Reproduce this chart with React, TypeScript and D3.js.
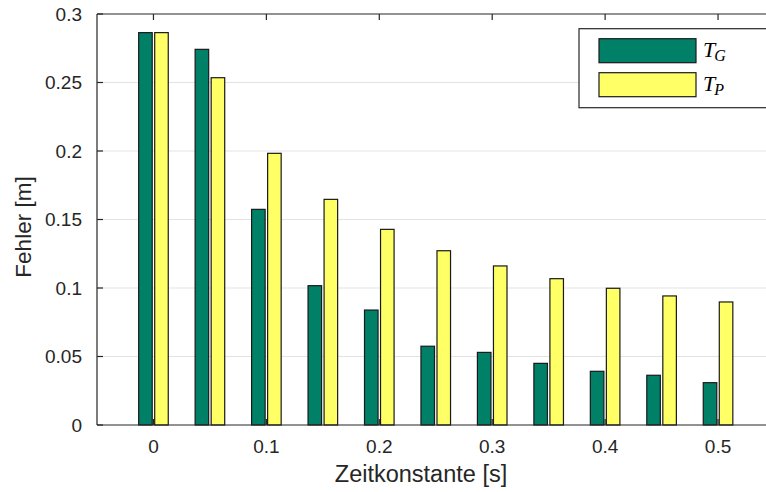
import { useEffect, useRef } from "react";
import * as d3 from "d3";

// Zeitkonstanten (s)
const timeConstants = [0, 0.05, 0.1, 0.15, 0.2, 0.25, 0.3, 0.35, 0.4, 0.45, 0.5];
// Fehler T_G (m)
const errorTG = [0.2864, 0.2742, 0.1574, 0.1017, 0.0839, 0.0575, 0.053, 0.045, 0.0392, 0.0363, 0.0309];
// Fehler T_P (m)
const errorTP = [0.2864, 0.2535, 0.1983, 0.1647, 0.1428, 0.1272, 0.1161, 0.1068, 0.0998, 0.0942, 0.0898];

const xTicks = [0, 0.1, 0.2, 0.3, 0.4, 0.5];
const yTicks = [0, 0.05, 0.1, 0.15, 0.2, 0.25, 0.3];

const seriesNames = ["G", "P"];
const seriesColors = ["#008066", "#ffff66"];

const App = () => {
  const svgRef = useRef<SVGSVGElement>(null);

  useEffect(() => {
    const svg = d3.select(svgRef.current);
    svg.selectAll("*").remove();

    const left = 97;
    const right = 774.5;
    const top = 14;
    const bottom = 425;
    const textColor = "#262626";
    const font = "'Liberation Sans', Arial, Helvetica, sans-serif";

    const x = d3.scaleLinear().domain([-0.05, 0.55]).range([left, right]);
    const y = d3.scaleLinear().domain([0, 0.3]).range([bottom, top]);

    // grid
    svg
      .append("g")
      .selectAll("line")
      .data(yTicks.slice(1, -1))
      .enter()
      .append("line")
      .attr("x1", left)
      .attr("x2", right)
      .attr("y1", (d) => y(d))
      .attr("y2", (d) => y(d))
      .attr("stroke", "#e3e3e3")
      .attr("stroke-width", 1.2);

    // bars
    const step = x(0.05) - x(0);
    const barW = step * 0.24;
    const gap = step * 0.022;
    const series = [errorTG, errorTP];

    series.forEach((vals, s) => {
      svg
        .append("g")
        .selectAll("rect")
        .data(vals)
        .enter()
        .append("rect")
        .attr("x", (d, i) => (s === 0 ? x(timeConstants[i]) - gap - barW : x(timeConstants[i]) + gap))
        .attr("y", (d) => y(d))
        .attr("width", barW)
        .attr("height", (d) => y(0) - y(d))
        .attr("fill", seriesColors[s])
        .attr("stroke", "#1a1a1a")
        .attr("stroke-width", 1.2);
    });

    // axes box
    const axis = svg.append("g").attr("stroke", textColor).attr("stroke-width", 1.2).attr("fill", "none");
    axis.append("line").attr("x1", left).attr("x2", left).attr("y1", top).attr("y2", bottom);
    axis.append("line").attr("x1", left).attr("x2", right).attr("y1", bottom).attr("y2", bottom);
    axis.append("line").attr("x1", left).attr("x2", right).attr("y1", top).attr("y2", top);

    const tickLen = 6;
    xTicks.forEach((t) => {
      axis.append("line").attr("x1", x(t)).attr("x2", x(t)).attr("y1", bottom).attr("y2", bottom - tickLen);
      axis.append("line").attr("x1", x(t)).attr("x2", x(t)).attr("y1", top).attr("y2", top + tickLen);
    });
    yTicks.forEach((t) => {
      axis.append("line").attr("x1", left).attr("x2", left + tickLen).attr("y1", y(t)).attr("y2", y(t));
    });

    // tick labels
    svg
      .append("g")
      .selectAll("text")
      .data(xTicks)
      .enter()
      .append("text")
      .attr("x", (d) => x(d))
      .attr("y", bottom + 28)
      .attr("text-anchor", "middle")
      .attr("font-family", font)
      .attr("font-size", 19)
      .attr("fill", textColor)
      .text((d) => d3.format("~g")(d));

    svg
      .append("g")
      .selectAll("text")
      .data(yTicks)
      .enter()
      .append("text")
      .attr("x", left - 15)
      .attr("y", (d) => y(d))
      .attr("dy", "0.36em")
      .attr("text-anchor", "end")
      .attr("font-family", font)
      .attr("font-size", 19)
      .attr("fill", textColor)
      .text((d) => d3.format("~g")(d));

    // axis labels
    svg
      .append("text")
      .attr("x", 421)
      .attr("y", 482)
      .attr("text-anchor", "middle")
      .attr("font-family", font)
      .attr("font-size", 23.5)
      .attr("fill", textColor)
      .text("Zeitkonstante [s]");

    svg
      .append("text")
      .attr("transform", "translate(31,227) rotate(-90)")
      .attr("text-anchor", "middle")
      .attr("font-family", font)
      .attr("font-size", 22.5)
      .attr("fill", textColor)
      .text("Fehler [m]");

    // legend
    const legend = svg.append("g");
    legend
      .append("rect")
      .attr("x", 579)
      .attr("y", 28.7)
      .attr("width", 200)
      .attr("height", 79)
      .attr("fill", "#ffffff")
      .attr("stroke", textColor)
      .attr("stroke-width", 1.2);

    seriesNames.forEach((name, i) => {
      const ly = 38.7 + i * 34;
      legend
        .append("rect")
        .attr("x", 599)
        .attr("y", ly)
        .attr("width", 97)
        .attr("height", 24)
        .attr("fill", seriesColors[i])
        .attr("stroke", "#1a1a1a")
        .attr("stroke-width", 1.2);
      const t = legend
        .append("text")
        .attr("x", 703)
        .attr("y", ly + 18)
        .attr("font-family", "'Liberation Serif', 'DejaVu Serif', serif")
        .attr("font-style", "italic")
        .attr("font-size", 22)
        .attr("fill", "#000");
      t.append("tspan").text("T");
      t.append("tspan").attr("dy", 4).attr("font-size", 16).attr("dx", -1).text(name);
    });
  }, []);

  return (
    <div style={{ position: "absolute", left: 0, top: 0 }}>
      <svg ref={svgRef} width={766} height={492} style={{ display: "block", background: "#fff" }}></svg>
    </div>
  );
};

export default App;
